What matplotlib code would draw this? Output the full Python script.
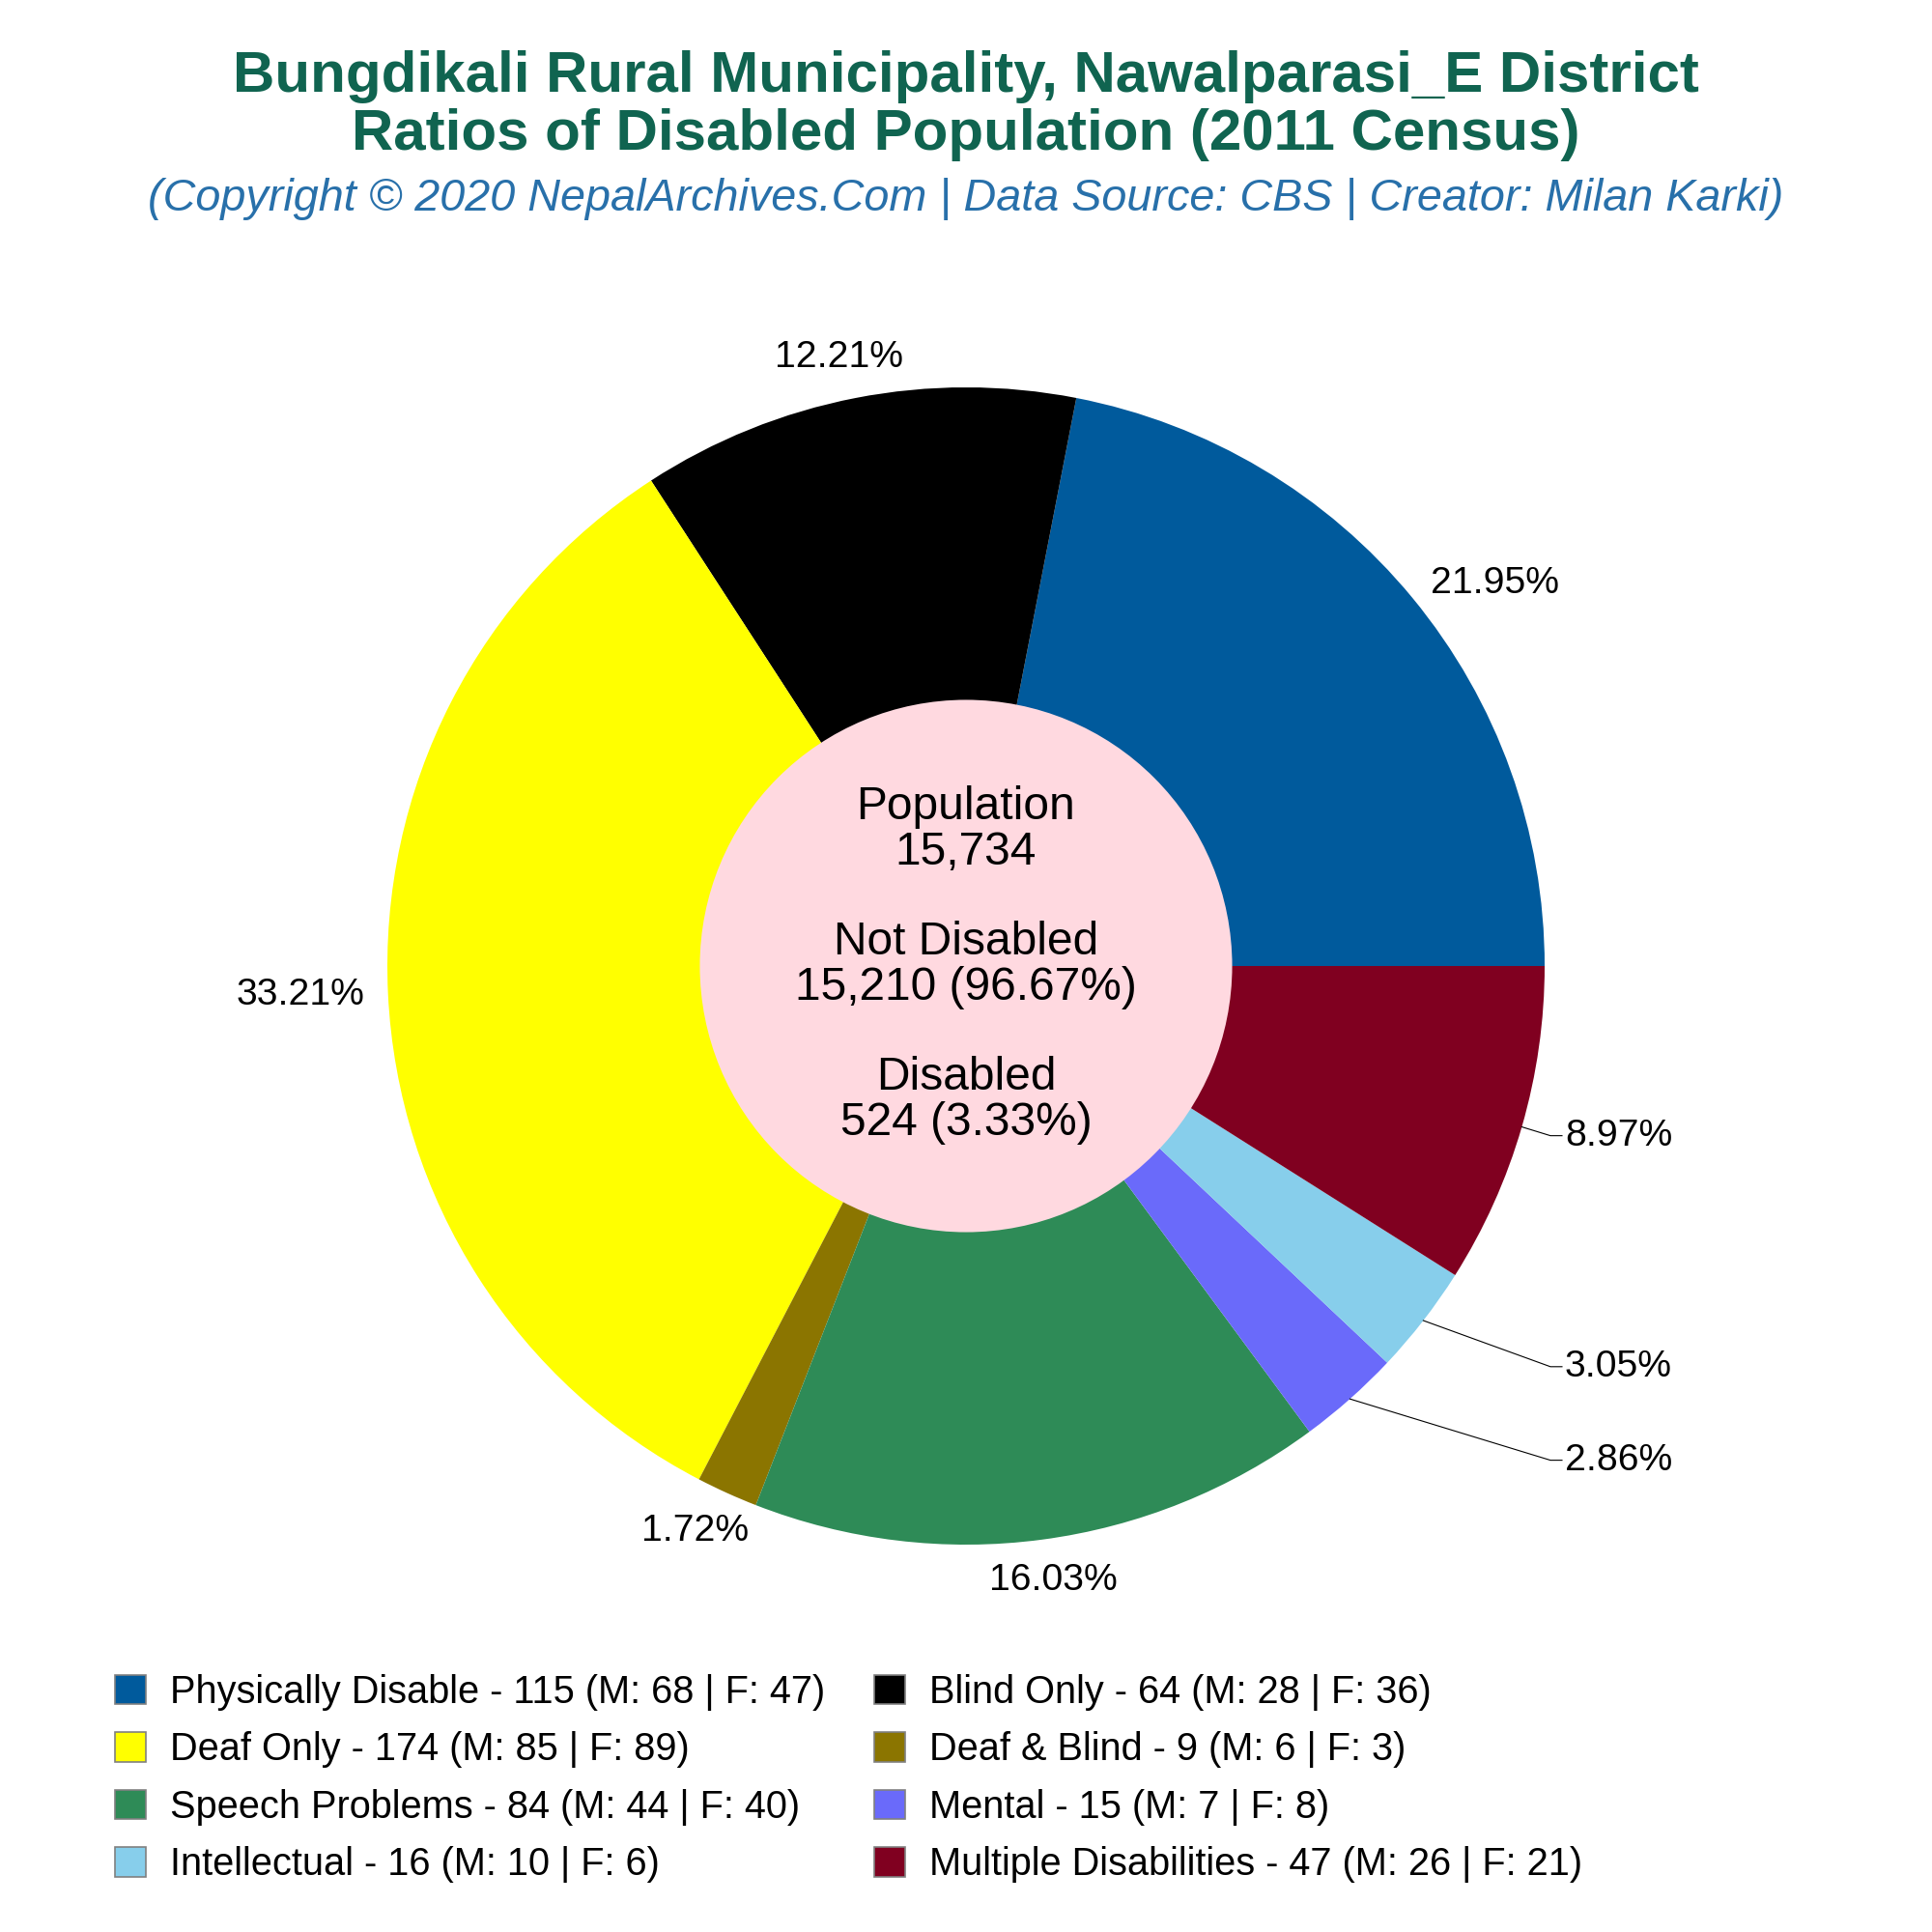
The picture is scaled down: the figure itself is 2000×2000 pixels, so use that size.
import numpy as np
import matplotlib.pyplot as plt
from matplotlib.patches import Circle, Patch

plt.rcParams['font.family'] = ['Liberation Sans', 'DejaVu Sans']

# data
categories = ['Physically Disable', 'Blind Only', 'Deaf Only', 'Deaf & Blind',
              'Speech Problems', 'Mental', 'Intellectual', 'Multiple Disabilities']
counts = [115, 64, 174, 9, 84, 15, 16, 47]
male = [68, 28, 85, 6, 44, 7, 10, 26]
female = [47, 36, 89, 3, 40, 8, 6, 21]
colors = ['#005A9C', '#000000', '#FFFF00', '#8B7500',
          '#2E8B57', '#6A6AFA', '#87CEEB', '#800020']
population = 15734
not_disabled = 15210
disabled = 524

title_1 = 'Bungdikali Rural Municipality, Nawalparasi_E District'
title_2 = 'Ratios of Disabled Population (2011 Census)'
subtitle = '(Copyright \u00a9 2020 NepalArchives.Com | Data Source: CBS | Creator: Milan Karki)'

W = 2000
fig = plt.figure(figsize=(20, 20), dpi=100)
ax = fig.add_axes([0, 0, 1, 1])
R_px = 599.0
cx, cy = 1000.0, 1000.0


def set_limits():
    ax.set_xlim(-cx / R_px, (W - cx) / R_px)
    ax.set_ylim(-cy / R_px, (W - cy) / R_px)
    ax.set_aspect('equal')
    ax.axis('off')


wedges, _ = ax.pie(counts, colors=colors, startangle=0, counterclock=True,
                   radius=1.0, center=(0, 0), wedgeprops=dict(linewidth=0))
set_limits()

# centre hole and text
ax.add_patch(Circle((0, 0), 0.46, facecolor='#FFD9E0', edgecolor='none', zorder=3))
center_lines = ['Population', '{:,}'.format(population), '',
                'Not Disabled', '{:,} ({:.2f}%)'.format(not_disabled, not_disabled / population * 100), '',
                'Disabled', '{:,} ({:.2f}%)'.format(disabled, disabled / population * 100)]
first_base = (cy - 848.3) / R_px
step = 46.7 / R_px
for i, line in enumerate(center_lines):
    ax.text(0, first_base - i * step, line, ha='center', va='baseline',
            fontsize=34.5, zorder=4)

# percentage labels
total = sum(counts)
pcts = [c / total * 100 for c in counts]
renderer = fig.canvas.get_renderer()
inv = ax.transData.inverted()
leaders = []
for w, p in zip(wedges, pcts):
    mid = np.deg2rad((w.theta1 + w.theta2) / 2)
    c, s = np.cos(mid), np.sin(mid)
    lab = '{:.2f}%'.format(p)
    if p < 10 and c > 0:
        leaders.append((s, c, lab))
        continue
    t = ax.text(0, 0, lab, ha='center', va='center', fontsize=28.2)
    bb = t.get_window_extent(renderer)
    p0 = inv.transform((bb.x0, bb.y0))
    p1 = inv.transform((bb.x1, bb.y1))
    tw, th = p1[0] - p0[0], p1[1] - p0[1]
    hx = np.sign(c) * tw / 2 if abs(c) > 0.5 else c * tw / 2
    vy = np.sign(s) * th / 2 if abs(s) > 0.7 else 0.0
    t.set_position((1.04 * c + hx, 1.04 * s + vy))

# small slices on the right get leader lines, stacked downward
prev = None
for s, c, lab in sorted(leaders, reverse=True):
    ty = 1.193 * s + 0.0385
    if prev is not None and prev - ty < 0.15:
        ty = prev - 0.15
    prev = ty
    ax.plot([c, 1.010, 1.030], [s, ty, ty], color='black', lw=0.8)
    ax.text(1.035, ty, lab, ha='left', va='center', fontsize=28.2)

# titles
fig.text(0.5, 1 - 95 / W, title_1, ha='center', va='baseline', fontsize=43.2,
         fontweight='bold', color='#106450')
fig.text(0.5, 1 - 155 / W, title_2, ha='center', va='baseline', fontsize=43.2,
         fontweight='bold', color='#106450')
fig.text(0.5, 1 - 218 / W, subtitle, ha='center', va='baseline', fontsize=33.7,
         style='italic', color='#2870AA')

# legend, row-major order like the original
labels = ['{} - {} (M: {} | F: {})'.format(n, c, m, f)
          for n, c, m, f in zip(categories, counts, male, female)]
handles = [Patch(facecolor=col, edgecolor='#808080', linewidth=1.2) for col in colors]
order = [0, 2, 4, 6, 1, 3, 5, 7]
fig.legend([handles[i] for i in order], [labels[i] for i in order],
           loc='upper left', bbox_to_anchor=(119.3 / W, 1 - 1733 / W), ncol=2,
           frameon=False, fontsize=28.6, borderpad=0, borderaxespad=0,
           handlelength=0.80, handleheight=0.80, handletextpad=0.63,
           labelspacing=0.54, columnspacing=1.28)

fig.savefig('out.png', dpi=100, facecolor='white')
